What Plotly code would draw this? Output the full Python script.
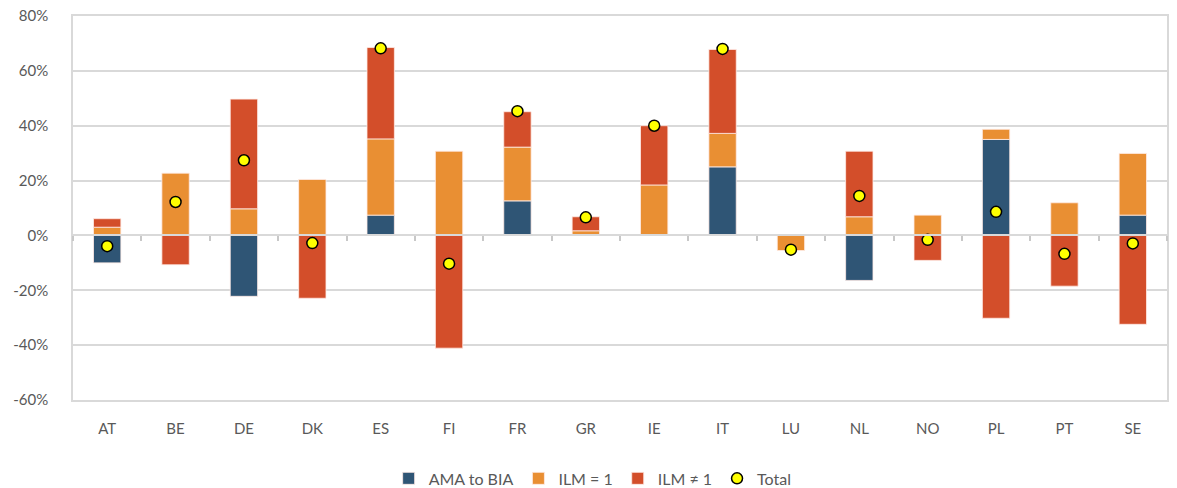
import plotly.graph_objects as go

countries = ["AT", "BE", "DE", "DK", "ES", "FI", "FR", "GR", "IE", "IT", "LU", "NL", "NO", "PL", "PT", "SE"]
ama_to_bia = [-10.0, 0.0, -22.2, 0.0, 7.4, 0.0, 12.6, 0.0, 0.0, 25.0, 0.0, -16.4, 0.0, 35.0, 0.0, 7.4]
ilm_eq_1 = [3.0, 22.7, 9.7, 20.4, 27.8, 30.7, 19.6, 1.7, 18.4, 12.2, -5.5, 6.8, 7.4, 3.7, 11.9, 22.5]
ilm_ne_1 = [3.1, -10.7, 40.0, -22.9, 33.3, -41.1, 12.9, 5.1, 21.6, 30.6, 0.0, 23.9, -9.1, -30.2, -18.5, -32.4]
total = [-3.9, 12.2, 27.4, -2.8, 68.2, -10.3, 45.3, 6.6, 40.0, 68.0, -5.2, 14.4, -1.6, 8.6, -6.7, -2.9]
y_ticks = [-60, -40, -20, 0, 20, 40, 60, 80]
y_tick_text = [f"{v}%" for v in y_ticks]

BLUE = "#2F5575"
ORANGE = "#E98F33"
RED = "#D34E2A"
GRID = "#D9D9D9"
TXT = "#595959"

fig = go.Figure()
bar_line = dict(color="rgba(255,235,230,0.8)", width=1)
fig.add_trace(go.Bar(x=countries, y=ama_to_bia, name="AMA to BIA",
                     marker=dict(color=BLUE, line=bar_line), width=0.4))
fig.add_trace(go.Bar(x=countries, y=ilm_eq_1, name="ILM = 1",
                     marker=dict(color=ORANGE, line=bar_line), width=0.4))
fig.add_trace(go.Bar(x=countries, y=ilm_ne_1, name="ILM ≠ 1",
                     marker=dict(color=RED, line=bar_line), width=0.4))
# invisible trace to build the zero-line category axis with boundary ticks
fig.add_trace(go.Scatter(x=countries, y=[0] * len(countries), xaxis="x2", yaxis="y",
                         mode="markers", marker=dict(opacity=0),
                         showlegend=False, hoverinfo="skip"))
fig.add_trace(go.Scatter(x=countries, y=total, name="Total", mode="markers",
                         marker=dict(symbol="circle", size=11, color="#FFFF00",
                                     line=dict(color="#000000", width=1.5))))

y_min, y_max = -60, 80
zero_pos = (0 - y_min) / (y_max - y_min)

fig.update_layout(
    width=1177, height=488,
    margin=dict(l=73, r=10, t=16, b=88, autoexpand=False),
    paper_bgcolor="white", plot_bgcolor="white",
    barmode="relative", bargap=0.6,
    font=dict(family="Lato, 'Open Sans', sans-serif", size=15, color=TXT),
    xaxis=dict(type="category", categoryarray=countries, range=[-0.5, 15.5],
               showgrid=False, showline=True, linecolor=GRID, linewidth=1.5, mirror=True,
               ticks="", ticklabelstandoff=14, tickfont=dict(size=15, color=TXT)),
    xaxis2=dict(type="category", categoryarray=countries, range=[-0.5, 15.5],
                overlaying="x", anchor="free", position=zero_pos, side="bottom",
                showgrid=False, showline=True, linecolor=GRID, linewidth=1.5,
                ticks="outside", tickson="boundaries", ticklen=5, tickcolor="#C8C8C8",
                tickwidth=1.5, showticklabels=False, zeroline=False),
    yaxis=dict(range=[y_min, y_max], tickvals=y_ticks, ticktext=y_tick_text,
               showgrid=True, gridcolor=GRID, gridwidth=1.5, zeroline=False,
               showline=True, linecolor=GRID, linewidth=1.5, mirror=True,
               ticks="", ticklabelstandoff=20, tickfont=dict(size=15, color=TXT)),
    legend=dict(orientation="h", x=0.475, xanchor="center", y=-0.16, yanchor="top",
                font=dict(size=16, color=TXT), traceorder="normal",
                itemwidth=30, tracegroupgap=0),
    showlegend=True,
)

fig.write_html("out.html", config={"displayModeBar": False},
               post_script="document.body.style.margin='0px';")
